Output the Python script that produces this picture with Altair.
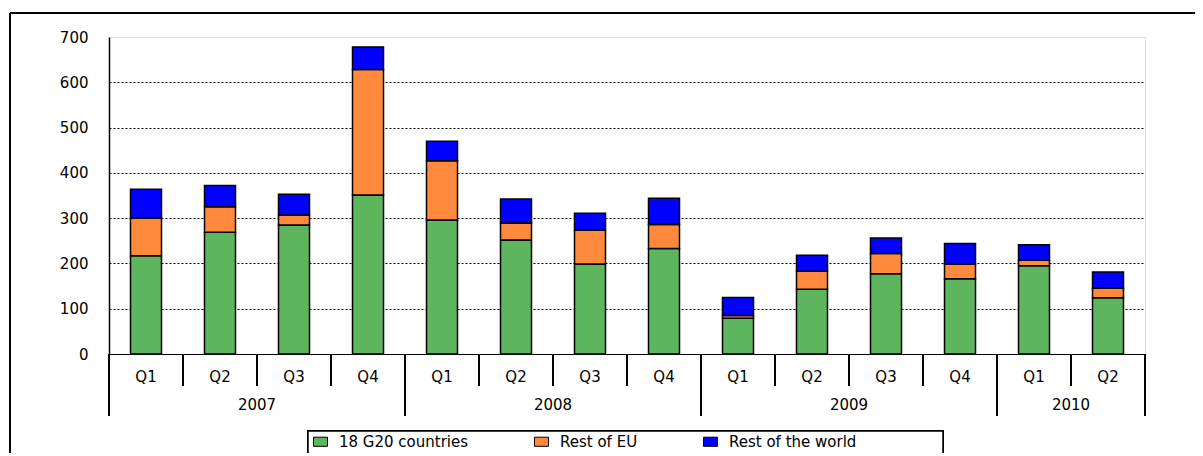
import altair as alt
import pandas as pd

years = ["2007"] * 4 + ["2008"] * 4 + ["2009"] * 4 + ["2010"] * 2
quarters = ["Q1", "Q2", "Q3", "Q4"] * 3 + ["Q1", "Q2"]
g20 = [217, 269, 285, 351, 296, 252, 199, 233, 79, 143, 177, 166, 195, 124]
rest_eu = [83, 56, 22, 277, 131, 37, 74, 53, 6, 40, 45, 33, 12, 21]
rest_world = [64, 47, 46, 50, 43, 53, 38, 58, 40, 35, 34, 45, 34, 36]
series = ["18 G20 countries", "Rest of EU", "Rest of the world"]
colors = ["#5DB55D", "#FF8A3D", "#0000FF"]
y_ticks = [0, 100, 200, 300, 400, 500, 600, 700]

keys = [f"{y} {q}" for y, q in zip(years, quarters)]

rows = []
for i, k in enumerate(keys):
    for j, (s, vals) in enumerate(zip(series, [g20, rest_eu, rest_world])):
        rows.append({"key": k, "series": s, "order": j, "value": vals[i]})
df = pd.DataFrame(rows)

W, H = 1036, 317
FONT = "DejaVu Sans"

xscale = alt.Scale(domain=keys, paddingInner=0, paddingOuter=0)

bars = alt.Chart(df).mark_bar(stroke="black", strokeWidth=1.5, width=31).encode(
    x=alt.X("key:N", scale=xscale, sort=keys,
            axis=alt.Axis(title=None, labelExpr="split(datum.label, ' ')[1]",
                          ticks=False, tickSize=0, labelPadding=15, labelAngle=0,
                          labelFont=FONT, labelFontSize=15, labelColor="black",
                          domainColor="black", domainWidth=1, grid=False)),
    y=alt.Y("value:Q", stack="zero",
            scale=alt.Scale(domain=[0, 700], nice=False),
            axis=alt.Axis(title=None, values=y_ticks, ticks=False, tickSize=0,
                          labelPadding=21, labelFont=FONT, labelFontSize=15,
                          labelColor="black", domainColor="black", domainWidth=1.5,
                          grid=True, gridColor="black", gridDash=[2, 2], gridWidth=1,
                          gridOpacity=alt.condition("datum.value == 700 || datum.value == 0",
                                                    alt.value(0), alt.value(1)))),
    color=alt.Color("series:N", scale=alt.Scale(domain=series, range=colors),
                    legend=alt.Legend(title=None, orient="none", legendX=204, legendY=397,
                                      direction="horizontal", padding=0,
                                      symbolType="M-1,-0.65H1V0.65H-1Z", symbolSize=196,
                                      symbolStrokeColor="black", symbolStrokeWidth=1,
                                      symbolOpacity=1,
                                      labelFont=FONT, labelFontSize=15, labelColor="black",
                                      columnPadding=63, labelOffset=11)),
    order=alt.Order("order:Q"),
)

sep_df = pd.DataFrame({"key": keys})
q_sep = alt.Chart(sep_df).mark_rule(color="black", strokeWidth=2).encode(
    x=alt.X("key:N", scale=xscale, sort=keys, bandPosition=0),
    y=alt.value(H), y2=alt.value(H + 32),
)

year_start = pd.DataFrame({"key": ["2007 Q1", "2008 Q1", "2009 Q1", "2010 Q1"]})
year_sep = alt.Chart(year_start).mark_rule(color="black", strokeWidth=2).encode(
    x=alt.X("key:N", scale=xscale, sort=keys, bandPosition=0),
    y=alt.value(H), y2=alt.value(H + 62),
)
year_end = alt.Chart(pd.DataFrame({"key": ["2010 Q2"]})).mark_rule(color="black", strokeWidth=2).encode(
    x=alt.X("key:N", scale=xscale, sort=keys, bandPosition=1),
    y=alt.value(H), y2=alt.value(H + 62),
)

year_lab_df = pd.DataFrame({"key": ["2007 Q3", "2008 Q3", "2009 Q3", "2010 Q2"],
                            "year": ["2007", "2008", "2009", "2010"]})
year_labels = alt.Chart(year_lab_df).mark_text(font=FONT, fontSize=15, color="black",
                                               baseline="middle", align="center").encode(
    x=alt.X("key:N", scale=xscale, sort=keys, bandPosition=0),
    y=alt.value(H + 51),
    text="year:N",
)

frame_left = alt.Chart(sep_df).mark_rule(color="black", strokeWidth=2).encode(
    x=alt.value(-99), y=alt.value(-24), y2=alt.value(H + 200),
)
frame_top = alt.Chart(sep_df).mark_rule(color="black", strokeWidth=2).encode(
    x=alt.value(-99), x2=alt.value(W + 60), y=alt.value(-24),
)
legend_box = alt.Chart(sep_df).mark_rect(fill="white", stroke="black", strokeWidth=1.5).encode(
    x=alt.value(199), x2=alt.value(834), y=alt.value(394), y2=alt.value(H + 140),
)

chart = alt.layer(legend_box, bars, q_sep, year_sep, year_end, year_labels,
                  frame_left, frame_top).properties(
    width=W, height=H,
    autosize=alt.AutoSizeParams(type="none"),
    padding={"left": 101, "top": 29, "right": 50, "bottom": 99},
).configure_view(stroke="#999999", strokeWidth=1).configure(background="white")

chart.save("out.html", embed_options={"renderer": "svg", "actions": False})
